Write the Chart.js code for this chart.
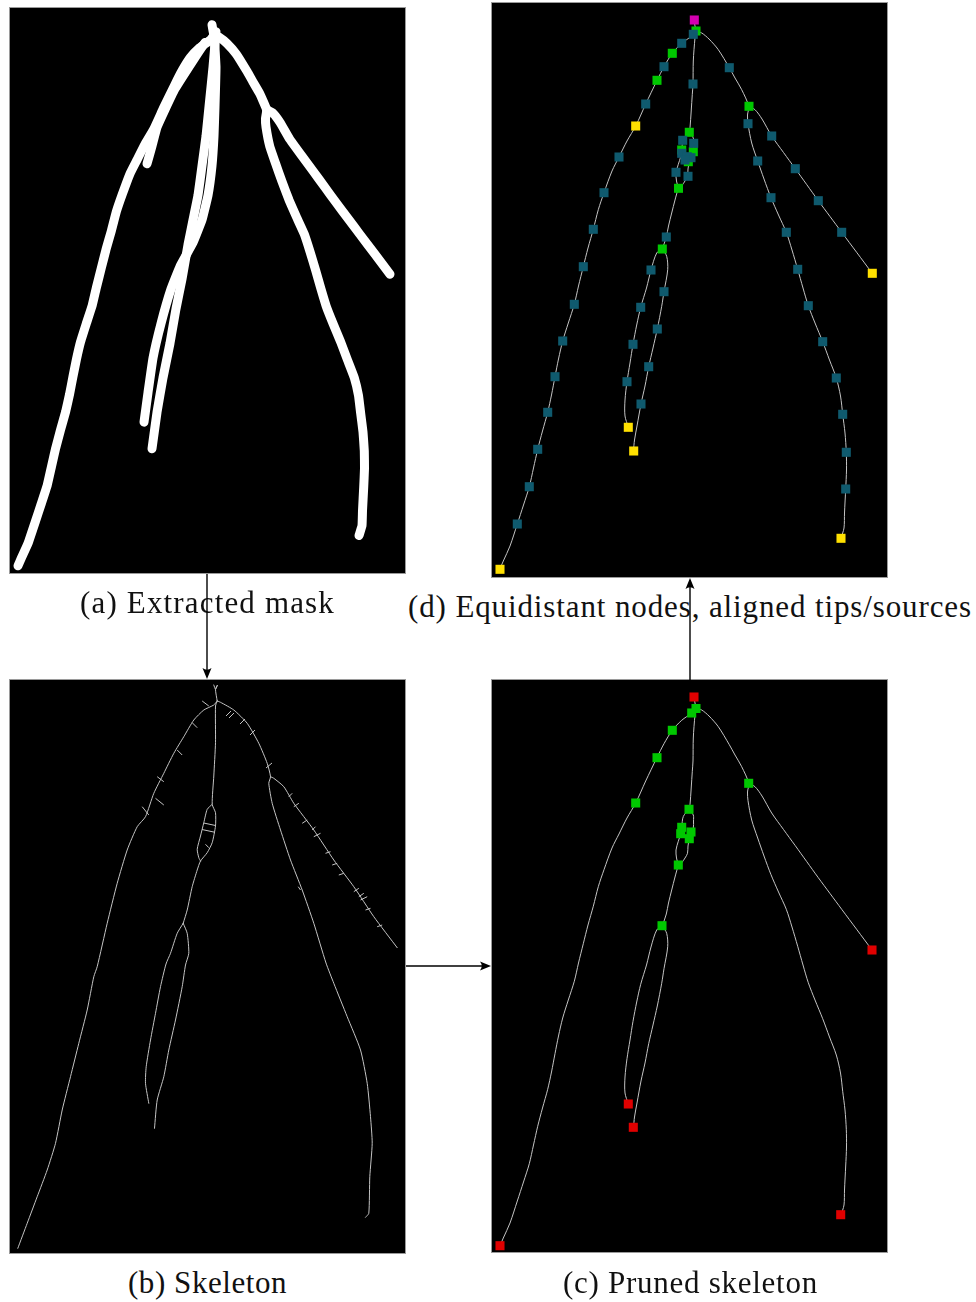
<!DOCTYPE html>
<html>
<head>
<meta charset="utf-8">
<script src="https://cdn.jsdelivr.net/npm/chart.js@4.4.1/dist/chart.umd.min.js"></script>
<style>
  body { margin: 0; background: #fff; width: 976px; height: 1302px; position: relative; overflow: hidden; }
  .panel { position: absolute; background: #000; outline: 1px solid #9a9a9a; }
  .cap { position: absolute; font-family: "Liberation Serif", "Times New Roman", serif; font-size: 31px;
         line-height: 1; color: #111; white-space: nowrap; }
  svg { position: absolute; left: 0; top: 0; }
</style>
</head>
<body>
<canvas id="pa" class="panel" width="395" height="565" style="left:10px;top:8px"></canvas>
<canvas id="pd" class="panel" width="395" height="574" style="left:492px;top:3px"></canvas>
<canvas id="pb" class="panel" width="395" height="573" style="left:10px;top:680px"></canvas>
<canvas id="pc" class="panel" width="395" height="572" style="left:492px;top:680px"></canvas>

<div class="cap" id="capA">(a) Extracted mask</div>
<div class="cap" id="capD">(d) Equidistant nodes, aligned tips/sources</div>
<div class="cap" id="capB">(b) Skeleton</div>
<div class="cap" id="capC">(c) Pruned skeleton</div>

<svg width="976" height="1302">
  <g stroke="#000" stroke-width="1.4" fill="none">
    <line x1="207" y1="574" x2="207" y2="671" />
    <line x1="406" y1="966" x2="484" y2="966" />
    <line x1="690" y1="680" x2="690" y2="586" />
  </g>
  <g fill="#000">
    <path d="M207 679 L202.5 668 Q207 671.5 211.5 668 Z" />
    <path d="M491 966 L480 961.5 Q483.5 966 480 970.5 Z" />
    <path d="M690 578 L685.5 589 Q690 585.5 694.5 589 Z" />
  </g>
</svg>

<script>
// root paths of the pruned skeleton, image pixel coords (x right, y down)
const rootStem = [[202,17],[203,23],[204,28]];
const rootLeft = [[204,28],[199.7,33],[189.7,40.3],[180.3,50.3],[172,63.7],[165,77.5],[153.7,101],[143.7,123],[135,138],[127,154],[120,168],[112,189.7],[106.3,206.7],[101.3,226.3],[96,245],[91.3,263.7],[86.5,283],[82.3,301.3],[76.3,320],[70.7,338],[66.5,356],[63,373.7],[59.5,392],[55.7,409.3],[50.5,428],[45.7,446.3],[41.5,465],[37.3,483.7],[31.5,502],[25.3,521],[18,543],[11.3,558],[8,565.7]];
const rootCenter = [[204,28],[203,34.7],[201.3,58],[201,81],[200.3,91.3],[198,124.7],[197,129.3]];
const lensLeft = [[197,129.3],[191.3,136.5],[189.7,147],[188.7,153.7],[186.3,161.3],[184,170],[184.5,178],[186.3,185]];
const lensRight = [[197,129.3],[201.3,135],[201.5,141],[201.3,148],[199,152],[197.3,158.7],[196,166],[195.5,173.3],[193,178],[189.5,183],[186.3,185]];
const centerLower = [[186.3,185],[183,197],[179.7,210],[176.5,223],[174.3,234],[170.3,246]];
const branchLeft = [[170.3,246],[164.7,250],[159,267],[154.5,285],[148.7,304.3],[144.7,322],[141,341.3],[138,360],[135,378.7],[133,397],[133,413],[136.3,424]];
const branchRight = [[170.3,246],[174.7,253.3],[175.7,266.7],[172,288.7],[169.7,303.3],[165.3,326],[161,345],[156.7,363.7],[153,383],[149,401],[145,423],[142.5,437],[141.5,447.5]];
const rootRight = [[204,28],[209.7,30],[217,36],[226.3,46.7],[237.3,64.7],[243,75],[249.7,86.7],[256.7,103.3],[255.5,112],[256,120.7],[259.7,140],[265.7,158],[272,176],[279,194.7],[286.5,212],[294.3,229.3],[300,247],[305.7,266.3],[311,285],[316.3,302.7],[323,320],[330.7,338.7],[337.5,357],[344.3,375],[348.5,393],[350.7,411.3],[353,430],[354.3,449.3],[354.5,467],[353.7,486],[352.5,510],[352,525],[349,535]];
const rootSide = [[256.7,103.3],[263,106.7],[270,116],[279.7,133],[291.5,149.5],[303.3,165.7],[314.8,181.7],[326.3,197.7],[338,213.5],[349.7,229.3],[365,249.8],[380,270]];

// extracted mask (panel a): crossing centre roots and a merged strand by the left root
const maskCentreA = [[204,24],[206,60],[205,100],[204,130],[202,160],[198,190],[192,215],[183,238],[170,262],[161,285],[151,320],[143,355],[138,390],[134,420]];
const maskCentreB = [[206,24],[203,60],[199,100],[196,130],[192,160],[188,190],[183,215],[178,240],[172,275],[166,305],[160,340],[153,375],[147,410],[142,447]];
const maskStub = [[137,158],[142,140],[147,121],[155,103],[165,82],[180,58],[195,35]];

// raw skeleton (panel b), its own pixel coords
const skelStem = [[203.8,5],[205.5,9.3],[207.5,5],[205.5,9.3],[207.2,21]];
const skelLeft = [[207.2,21],[203.8,25],[193.8,30],[183.8,40],[173.8,56.7],[163.8,73.3],[153.8,93.3],[143.8,113.3],[135.5,136.7],[127.2,146.7],[117.2,170],[107.2,203.3],[97.2,243.3],[87.2,286.7],[83.8,296.7],[77.2,330],[68.8,363.3],[60.5,396.7],[52.2,430],[45.5,463.3],[37.2,490],[27.2,516.7],[17.2,543.3],[7.8,568.3]];
const skelCenter = [[207.2,21],[205.5,26],[205.5,62.7],[203.8,96],[202.2,124.3],[205.5,132.7],[205.5,146],[202.2,162.7],[197.2,172.7],[190.5,181],[187.2,190],[182.2,206.7],[177.2,230],[173.2,243.3]];
const skelLens = [[202.2,124.3],[197.2,129.3],[193.8,142.7],[190.5,156],[187.2,169.3],[188.8,177.7],[190.5,181]];
const skelBranchL = [[173.2,243.3],[167.2,253.3],[160.5,273.3],[156,284],[150.5,306.7],[145.5,333.3],[140.5,360],[136.2,386.7],[135.5,403.3],[138.8,423.3]];
const skelBranchR = [[173.2,243.3],[177.2,253.3],[178.8,273.3],[175.5,285],[172.2,306.7],[165.5,340],[158.8,370],[153.8,396.7],[147.2,420],[144.5,448.3]];
const skelRight = [[207.2,21],[210.5,22.3],[223.8,30],[237.2,43.3],[248.8,63.3],[257.2,83.3],[260.5,96.7],[258.8,103.3],[262.2,123.3],[270.5,150],[280.5,180],[292.2,210],[303.8,243.3],[316,283],[323.8,303.3],[337.2,336.7],[350.5,370],[357.2,403.3],[360.5,436.7],[362.2,463.3],[359.8,496.7],[358.8,533.3],[355.5,537.3]];
const skelSide = [[260.5,96.7],[263.8,98.3],[273.8,106.7],[283.8,123.3],[303.8,150],[323.8,180],[343.8,206.7],[363.8,236.7],[387.2,267.7]];
const skelSpurs = [
  [192.2,21,198.8,26],[182.2,42.7,187.2,47.7],[167.2,70,172.2,75],[147.2,96.7,153.8,101.7],
  [145.5,118.3,153.8,125],[132.2,126.7,138.8,135],
  [216,36,221,31],[219,38,224,33],[230,44,235,39],[240,55,245,50],[256,88,262,83],
  [278.8,116.7,282.2,113.3],[283.8,126.7,288.8,123.3],[292.2,143.3,297.2,140],[302.2,150,305.5,146.7],
  [303.8,156.7,310.5,153.3],[315.5,173.3,320.5,171.7],[322.2,185,327.2,183.3],[328.8,195,333.8,193.3],
  [343.8,211.7,348.8,208.3],[348.8,216.7,353.8,213.3],[350.5,220,357.2,216.7],[355.5,230,360.5,228.3],
  [367.2,246.7,372.2,245],[288.2,206.7,290.5,210],
  [193.7,143,205.5,145.5],[192,149.5,205,152.3],[195.5,164.3,198.8,167.7]
];

// nodes, panel c
const cSources = [[202,17]];
const cJunctions = [[204,28.5],[199.7,33],[180.3,50.3],[165,77.7],[143.7,123],[197,129.3],[189.7,147.3],[188.7,153.7],[199,152],[197.3,158.7],[186.3,185],[170,245.7],[256.7,103.3]];
const cTips = [[380,270],[136.3,424],[141.3,447.3],[348.7,534.7],[8,565.7]];

// nodes, panel d
const dSources = [[202.3,17]];
const dJunctions = [[204,28],[180.3,50.3],[165,77.3],[197.3,129.3],[189.7,147],[201.3,148.7],[196.3,158.7],[186.5,185.3],[170.3,246],[257,103.3]];
const dTips = [[143.7,123],[380.3,270.3],[136.3,424.3],[141.7,448],[349,535.3],[8,566.3]];
const dNodes = [[201.3,31.3],[189.7,40.3],[172,63.7],[153.7,101],[127,154],[112,189.7],[101.3,226.3],[91.3,263.7],[82.3,301.3],[70.7,338],[63,373.7],[55.7,409.3],[45.7,446.3],[37.3,483.7],[25.3,521],
  [201,81],[190.7,137.3],[201.7,140.3],[189.7,150.3],[195.3,153.7],[199,154.7],[193,157],[184,169.3],[196,173.3],[174.3,234],
  [159,267],[148.7,304.3],[141,341.3],[135,378.7],[172,288.7],[165.3,326],[156.7,363.7],[149,401],
  [237.3,64.7],[256,120.7],[265.7,158],[279,194.7],[294.3,229.3],[305.7,266.3],[316.3,302.7],[330.7,338.7],[344.3,375],[350.7,411.3],[354.3,449.3],[353.7,486],
  [279.7,133],[303.3,165.7],[326.3,197.7],[349.7,229.3]];

const prunedPaths = [rootStem, rootLeft, rootCenter, lensLeft, lensRight, centerLower, branchLeft, branchRight, rootRight, rootSide];
const maskPaths = [rootStem, rootLeft, rootRight, rootSide, maskCentreA, maskCentreB, maskStub];
const skelPaths = [skelStem, skelLeft, skelCenter, skelLens, skelBranchL, skelBranchR, skelRight, skelSide];

const toXY = (arr) => arr.map((p) => ({ x: p[0], y: p[1] }));

function lineSet(path, color, width, tension) {
  return {
    data: toXY(path), showLine: true, pointRadius: 0, borderColor: color, borderWidth: width,
    tension: tension, borderCapStyle: 'round', borderJoinStyle: 'round', fill: false,
  };
}

function spurSet(segs, color) {
  const data = [];
  segs.forEach((s) => { data.push({ x: s[0], y: s[1] }, { x: s[2], y: s[3] }, { x: null, y: null }); });
  return { data, showLine: true, spanGaps: false, pointRadius: 0, borderColor: color, borderWidth: 1, tension: 0 };
}

function nodeSet(nodes, color) {
  return { data: toXY(nodes), showLine: false, pointStyle: 'rect', pointRadius: 6.4, backgroundColor: color, borderWidth: 0 };
}

function makePanel(id, xMax, yMax, datasets) {
  return new Chart(document.getElementById(id), {
    type: 'scatter',
    data: { datasets },
    options: {
      responsive: false,
      animation: false,
      events: [],
      layout: { padding: 0, autoPadding: false },
      plugins: { legend: { display: false }, tooltip: { enabled: false } },
      scales: {
        x: { type: 'linear', display: false, min: 0, max: xMax },
        y: { type: 'linear', display: false, min: 0, max: yMax, reverse: true },
      },
    },
  });
}

const lineGray = '#c4c4c4';

// (a) mask: roots drawn thick
makePanel('pa', 395, 573, maskPaths.map((p) => lineSet(p, '#ffffff', 9, 0.1)));

// (b) raw skeleton with spurs
makePanel('pb', 395, 573, [spurSet(skelSpurs, lineGray), ...skelPaths.map((p) => lineSet(p, lineGray, 1, 0.2))]);

// (c) pruned skeleton with junctions and end points
makePanel('pc', 395, 572, [
  nodeSet(cSources, '#e00000'),
  nodeSet(cTips, '#e00000'),
  nodeSet(cJunctions, '#00c800'),
  ...prunedPaths.map((p) => lineSet(p, lineGray, 1, 0.3)),
]);

// (d) equidistant nodes
makePanel('pd', 395, 574, [
  nodeSet(dSources, '#d400b0'),
  nodeSet(dTips, '#ffe000'),
  nodeSet(dNodes, '#0f5a6e'),
  nodeSet(dJunctions, '#00c800'),
  ...prunedPaths.map((p) => lineSet(p, lineGray, 1, 0.3)),
]);

// captions: centre x, baseline, target width
const capLayout = [['capA', 207.5, 613, 255], ['capD', 690, 617, 564], ['capB', 207.5, 1293, 159], ['capC', 690.5, 1293, 255]];
const mctx = document.createElement('canvas').getContext('2d');
mctx.font = '31px "Liberation Serif"';
capLayout.forEach(([id, cx, base, w]) => {
  const el = document.getElementById(id);
  const txt = el.textContent;
  const nat = mctx.measureText(txt).width;
  const ls = (w - nat) / txt.length;
  el.style.letterSpacing = ls.toFixed(2) + 'px';
  el.style.left = (cx - w / 2) + 'px';
  el.style.top = (base - 26) + 'px';
});
</script>
</body>
</html>
